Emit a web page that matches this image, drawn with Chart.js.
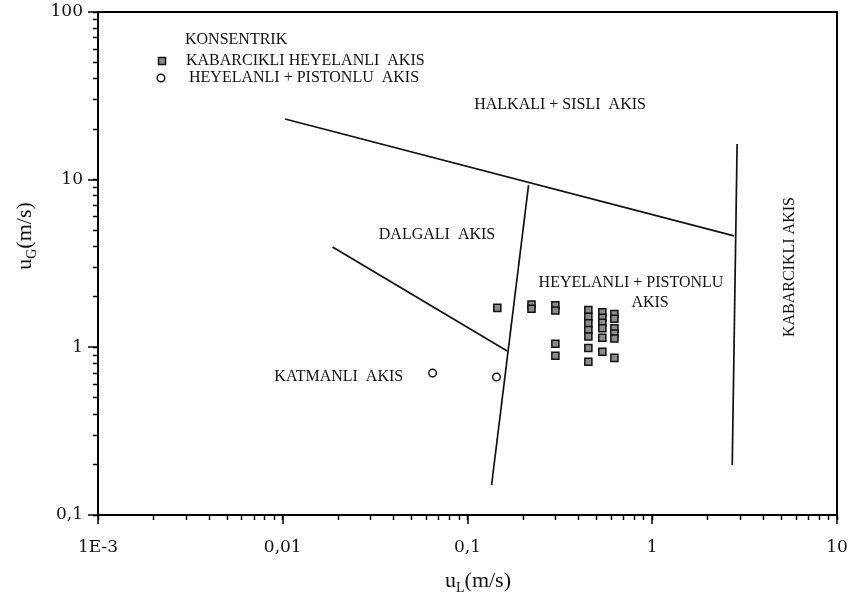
<!DOCTYPE html>
<html>
<head>
<meta charset="utf-8">
<script src="https://cdn.jsdelivr.net/npm/chart.js@4.4.1/dist/chart.umd.min.js"></script>
<style>
  html, body { margin: 0; padding: 0; background: #fff; }
  canvas { display: block; }
</style>
</head>
<body>
<canvas id="flowMap" width="850" height="599"></canvas>
<script>
// Konsentrik boru: olculen akis noktalari (u_L, u_G in m/s)
const bubblySlugUL = [0.145, 0.222, 0.222, 0.299, 0.299, 0.299, 0.299,
                      0.451, 0.451, 0.451, 0.451, 0.451, 0.451, 0.451,
                      0.537, 0.537, 0.537, 0.537, 0.537, 0.537,
                      0.624, 0.624, 0.624, 0.624, 0.624, 0.624];
const bubblySlugUG = [1.72, 1.80, 1.70, 1.78, 1.66, 1.05, 0.89,
                      1.67, 1.52, 1.39, 1.27, 1.16, 0.99, 0.82,
                      1.62, 1.50, 1.40, 1.30, 1.14, 0.94,
                      1.58, 1.48, 1.30, 1.21, 1.13, 0.865];
const slugPlugUL = [0.0647, 0.1435];
const slugPlugUG = [0.703, 0.665];

// Akis rejimi sinir cizgileri
const annularUL = [0.0103, 2.77];
const annularUG = [23.0, 4.62];
const bubblyEdgeUL = [2.88, 2.71];
const bubblyEdgeUG = [16.3, 0.199];
const slugEdgeUL = [0.214, 0.135];
const slugEdgeUG = [9.29, 0.151];
const wavyEdgeUL = [0.0186, 0.164];
const wavyEdgeUG = [3.97, 0.952];

// Rejim adlari ve konumlari (veri koordinatlarinda)
const regionNames = ['HALKALI + SISLI  AKIS', 'DALGALI  AKIS', 'HEYELANLI + PISTONLU',
                     'AKIS', 'KATMANLI  AKIS', 'KABARCIKLI AKIS'];
const regionUL = [0.317, 0.0684, 0.767, 0.973, 0.0201, 5.57];
const regionUG = [27.9, 4.68, 2.42, 1.84, 0.665, 3.01];
const regionRotated = [false, false, false, false, false, true];

// Eksen bolmeleri
const xDecades = [0.001, 0.01, 0.1, 1, 10];
const xTickLabels = ['1E-3', '0,01', '0,1', '1', '10'];
const yDecades = [0.1, 1, 10, 100];
const yTickLabels = ['0,1', '1', '10', '100'];

const legendTitle = 'KONSENTRIK';
const legendNames = ['KABARCIKLI HEYELANLI  AKIS', 'HEYELANLI + PISTONLU  AKIS'];

const SERIF = '"Liberation Serif", "DejaVu Serif", serif';
const TICK_FONT = '"DejaVu Serif", serif';
const INK = '#111';

function pairs(xs, ys) { return xs.map((v, i) => ({ x: v, y: ys[i] })); }

function logTicks(decades) {
  const out = [];
  for (let i = 0; i < decades.length - 1; i++) {
    for (let k = 1; k <= 9; k++) out.push(+(k * decades[i]).toPrecision(6));
  }
  out.push(decades[decades.length - 1]);
  return out;
}

function decadeLabel(v, decades, labels) {
  const i = decades.findIndex(d => Math.abs(d - v) / d < 1e-6);
  return i >= 0 ? labels[i] : '';
}

function lineSet(xs, ys) {
  return {
    data: pairs(xs, ys), showLine: true, pointRadius: 0, pointHoverRadius: 0,
    borderColor: INK, borderWidth: 1.7, fill: false, order: 2
  };
}

function drawSubscripted(ctx, base, sub, rest, x, y) {
  const big = '22px ' + SERIF, small = '14px ' + SERIF;
  ctx.font = big;
  const wBase = ctx.measureText(base).width;
  const wRest = ctx.measureText(rest).width;
  ctx.font = small;
  const wSub = ctx.measureText(sub).width;
  let cx = x - (wBase + wSub + wRest) / 2;
  ctx.textAlign = 'left';
  ctx.textBaseline = 'alphabetic';
  ctx.font = big;
  ctx.fillText(base, cx, y);
  cx += wBase;
  ctx.font = small;
  ctx.fillText(sub, cx, y + 5);
  cx += wSub;
  ctx.font = big;
  ctx.fillText(rest, cx, y);
}

const decorations = {
  id: 'decorations',
  afterDraw(chart) {
    const { ctx, chartArea: a, scales: { x, y } } = chart;
    ctx.save();

    // plot frame
    ctx.strokeStyle = '#000';
    ctx.lineWidth = 2;
    ctx.strokeRect(a.left, a.top, a.right - a.left, a.bottom - a.top);

    // longer marks at each decade
    ctx.lineWidth = 1.5;
    xDecades.forEach(v => {
      const px = Math.round(x.getPixelForValue(v));
      ctx.beginPath(); ctx.moveTo(px, a.bottom); ctx.lineTo(px, a.bottom + 9); ctx.stroke();
    });
    yDecades.forEach(v => {
      const py = Math.round(y.getPixelForValue(v));
      ctx.beginPath(); ctx.moveTo(a.left, py); ctx.lineTo(a.left - 10, py); ctx.stroke();
    });

    // regime names
    ctx.fillStyle = INK;
    ctx.font = '16px ' + SERIF;
    ctx.textAlign = 'center';
    ctx.textBaseline = 'middle';
    regionNames.forEach((name, i) => {
      const px = x.getPixelForValue(regionUL[i]);
      const py = y.getPixelForValue(regionUG[i]);
      if (regionRotated[i]) {
        ctx.save();
        ctx.translate(px, py);
        ctx.rotate(-Math.PI / 2);
        ctx.fillText(name, 0, 0);
        ctx.restore();
      } else {
        ctx.fillText(name, px, py);
      }
    });

    // legend block
    const lx = a.left + 64;
    ctx.textAlign = 'left';
    ctx.fillText(legendTitle, lx + 23, a.top + 28);
    ctx.fillText(legendNames[0], lx + 24, a.top + 49);
    ctx.fillText(legendNames[1], lx + 27, a.top + 66);
    ctx.fillStyle = '#8c8c8c';
    ctx.strokeStyle = INK;
    ctx.lineWidth = 1.5;
    ctx.fillRect(lx - 3.5, a.top + 45.5, 7, 7);
    ctx.strokeRect(lx - 3.5, a.top + 45.5, 7, 7);
    ctx.fillStyle = '#fff';
    ctx.beginPath();
    ctx.arc(lx - 1, a.top + 66, 3.8, 0, Math.PI * 2);
    ctx.fill(); ctx.stroke();

    // axis titles
    ctx.fillStyle = INK;
    drawSubscripted(ctx, 'u', 'L', '(m/s)', 478, 587);
    ctx.save();
    ctx.translate(31, 236);
    ctx.rotate(-Math.PI / 2);
    drawSubscripted(ctx, 'u', 'G', '(m/s)', 0, 0);
    ctx.restore();

    ctx.restore();
  }
};

Chart.defaults.font.family = SERIF;
Chart.defaults.color = INK;

new Chart(document.getElementById('flowMap'), {
  type: 'scatter',
  data: {
    datasets: [
      {
        data: pairs(bubblySlugUL, bubblySlugUG),
        pointStyle: 'rect', pointRadius: 5, pointHoverRadius: 5,
        backgroundColor: '#8c8c8c', borderColor: INK, borderWidth: 1.5, order: 0
      },
      {
        data: pairs(slugPlugUL, slugPlugUG),
        pointStyle: 'circle', pointRadius: 3.8, pointHoverRadius: 3.8,
        backgroundColor: '#fff', borderColor: INK, borderWidth: 1.4, order: 0
      },
      lineSet(annularUL, annularUG),
      lineSet(bubblyEdgeUL, bubblyEdgeUG),
      lineSet(slugEdgeUL, slugEdgeUG),
      lineSet(wavyEdgeUL, wavyEdgeUG)
    ]
  },
  options: {
    responsive: false,
    animation: false,
    events: [],
    layout: { padding: { top: 12, right: 13, left: 0, bottom: 0 } },
    plugins: { legend: { display: false }, tooltip: { enabled: false } },
    scales: {
      x: {
        type: 'logarithmic', min: 0.001, max: 10,
        afterBuildTicks: s => { s.ticks = logTicks(xDecades).map(v => ({ value: v })); },
        afterFit: s => { s.height = 84; s.paddingLeft = 0; s.paddingRight = 0; },
        grid: { drawOnChartArea: false, drawTicks: true, tickLength: 5, tickColor: '#000', tickWidth: 1.5 },
        border: { display: true, color: '#000', width: 2 },
        ticks: {
          autoSkip: false, maxRotation: 0, minRotation: 0, padding: 17, color: INK,
          font: { size: 17, family: TICK_FONT },
          callback: v => decadeLabel(v, xDecades, xTickLabels)
        }
      },
      y: {
        type: 'logarithmic', min: 0.1, max: 100,
        afterBuildTicks: s => { s.ticks = logTicks(yDecades).map(v => ({ value: v })); },
        afterFit: s => { s.width = 98; s.paddingTop = 0; s.paddingBottom = 0; },
        grid: { drawOnChartArea: false, drawTicks: true, tickLength: 5, tickColor: '#000', tickWidth: 1.5 },
        border: { display: true, color: '#000', width: 2 },
        ticks: {
          autoSkip: false, padding: 10, color: INK,
          font: { size: 17, family: TICK_FONT },
          callback: v => decadeLabel(v, yDecades, yTickLabels)
        }
      }
    }
  },
  plugins: [decorations]
});
</script>
</body>
</html>
